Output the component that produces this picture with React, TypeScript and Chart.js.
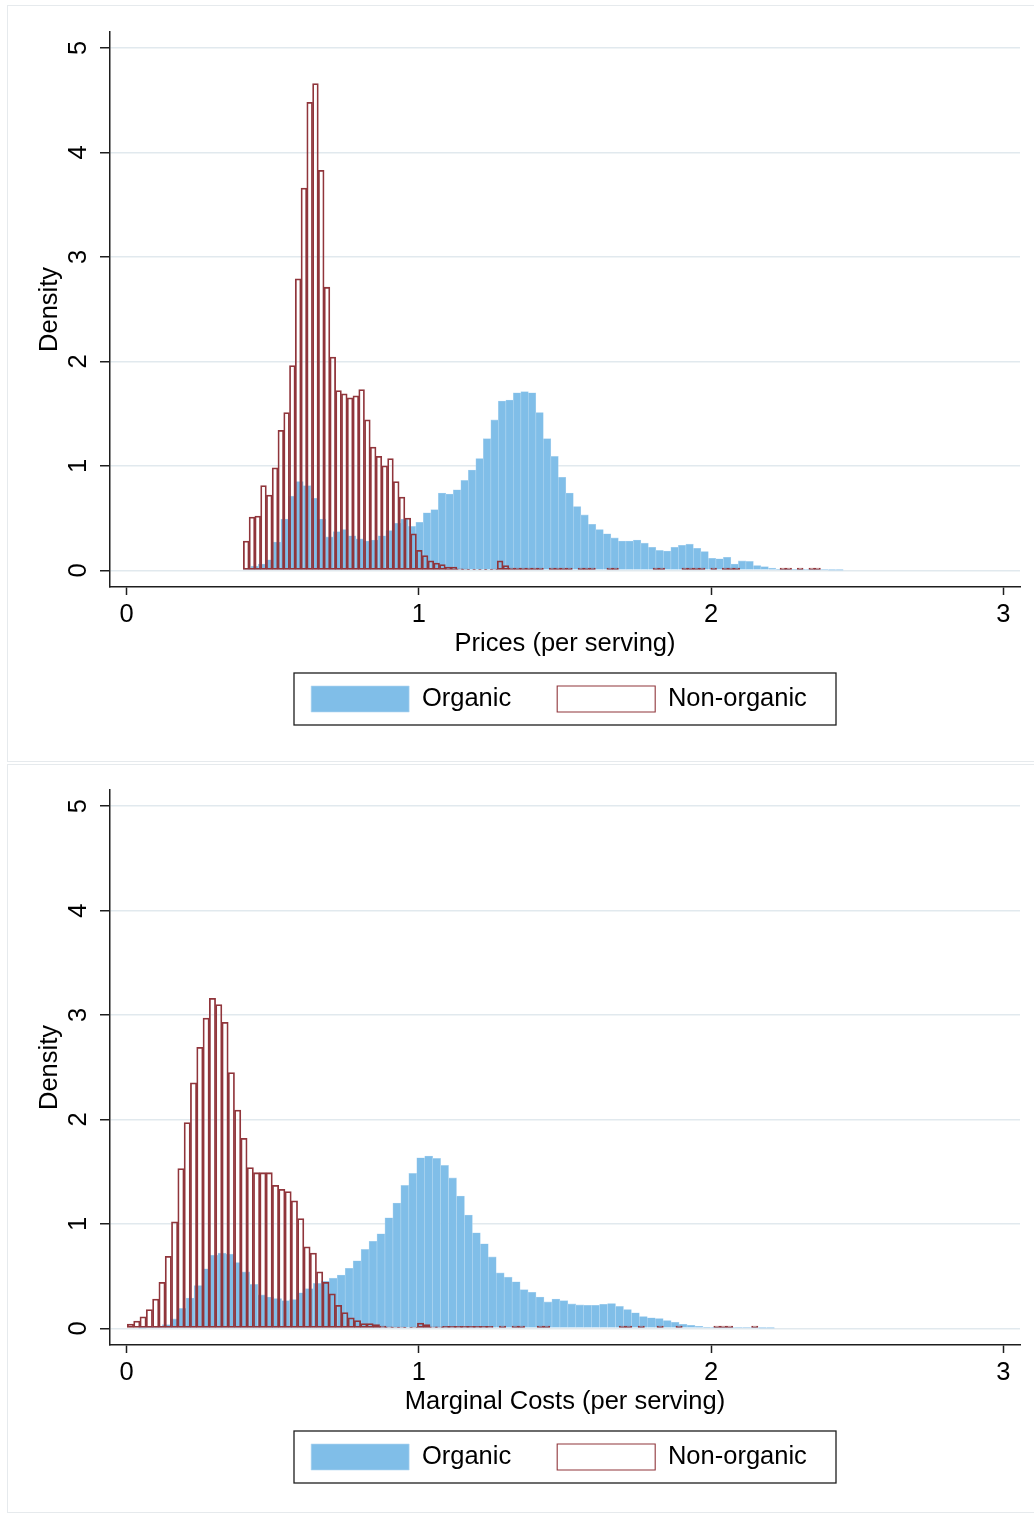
import React, { useEffect, useRef } from "react";
import { Chart, registerables } from "chart.js";

Chart.register(...registerables);

// ---------- data ----------
const xTicks = [0, 1, 2, 3];
const yTicks = [0, 1, 2, 3, 4, 5];
const seriesLabels = ["Organic", "Non-organic"];
const panelTitles = ["Prices (per serving)", "Marginal Costs (per serving)"];

// Prices panel: bin starts / widths and densities
const priceOrganicStart = 0.399;
const priceOrganicWidth = 0.02567;
const priceOrganic = [
  0.02, 0.04, 0.06, 0.1, 0.27, 0.49, 0.71, 0.85, 0.81, 0.69,
  0.49, 0.32, 0.37, 0.39, 0.33, 0.3, 0.28, 0.29, 0.33, 0.38,
  0.45, 0.49, 0.42, 0.46, 0.55, 0.58, 0.74, 0.73, 0.77, 0.86,
  0.96, 1.07, 1.26, 1.44, 1.62, 1.63, 1.7, 1.71, 1.7, 1.51,
  1.26, 1.09, 0.89, 0.74, 0.61, 0.53, 0.44, 0.39, 0.35, 0.31,
  0.28, 0.28, 0.29, 0.26, 0.22, 0.19, 0.185, 0.22, 0.24, 0.25,
  0.21, 0.18, 0.115, 0.11, 0.125, 0.06, 0.09, 0.085, 0.045, 0.035,
  0.02, 0.007, 0.005, 0.004, 0.004, 0.003, 0.003, 0.003, 0.002, 0.002,
];
const priceNonOrganicStart = 0.399;
const priceNonOrganicWidth = 0.01975;
const priceNonOrganic = [
  0.28, 0.51, 0.52, 0.81, 0.72, 0.98, 1.34, 1.51, 1.96, 2.79,
  3.66, 4.48, 4.66, 3.83, 2.71, 2.04, 1.72, 1.69, 1.65, 1.67,
  1.73, 1.44, 1.18, 1.09, 1.0, 1.07, 0.85, 0.7, 0.5, 0.35,
  0.19, 0.14, 0.09, 0.07, 0.055, 0.03, 0.03, 0.014, 0.012, 0.01,
  0.01, 0.01, 0.01, 0.012, 0.09, 0.045, 0.022, 0.022, 0.022, 0.022,
  0.022, 0.022, 0, 0.022, 0.022, 0.022, 0.022, 0, 0.022, 0.022,
  0.022, 0, 0, 0.022, 0.022, 0, 0, 0, 0, 0,
  0, 0.022, 0.022, 0, 0, 0, 0.022, 0.022, 0.022, 0.022,
  0, 0.022, 0, 0.022, 0.022, 0.022, 0, 0, 0, 0,
  0, 0, 0, 0.022, 0.022, 0, 0.022, 0, 0.022, 0.022,
];

// Marginal costs panel
const mcOrganicStart = 0.0402;
const mcOrganicWidth = 0.02721;
const mcOrganic = [
  0.002, 0.005, 0.015, 0.035, 0.09, 0.19, 0.29, 0.41, 0.57, 0.7,
  0.72, 0.71, 0.63, 0.54, 0.42, 0.32, 0.3, 0.285, 0.265, 0.275,
  0.34, 0.38, 0.43, 0.45, 0.48, 0.51, 0.575, 0.646, 0.755, 0.834,
  0.905, 1.058, 1.2, 1.368, 1.483, 1.633, 1.65, 1.627, 1.56, 1.44,
  1.266, 1.084, 0.914, 0.81, 0.684, 0.53, 0.49, 0.445, 0.37, 0.345,
  0.3, 0.253, 0.28, 0.265, 0.234, 0.224, 0.22, 0.22, 0.23, 0.237,
  0.21, 0.18, 0.148, 0.112, 0.1, 0.093, 0.074, 0.058, 0.038, 0.029,
  0.019, 0.01, 0.007, 0.004, 0.004, 0.004, 0.003, 0.003, 0.002, 0.002,
];
const mcNonOrganicStart = 0.0021;
const mcNonOrganicWidth = 0.02158;
const mcNonOrganic = [
  0.04, 0.07, 0.11, 0.18, 0.28, 0.44, 0.69, 1.02, 1.53, 1.97,
  2.35, 2.69, 2.97, 3.16, 3.1, 2.93, 2.45, 2.09, 1.82, 1.54,
  1.49, 1.49, 1.49, 1.37, 1.33, 1.31, 1.22, 1.05, 0.78, 0.72,
  0.54, 0.44, 0.33, 0.22, 0.15, 0.1, 0.074, 0.045, 0.045, 0.035,
  0.02, 0.015, 0.012, 0.012, 0.01, 0.012, 0.05, 0.035, 0.015, 0.014,
  0.018, 0.018, 0.018, 0.018, 0.018, 0.018, 0.018, 0.018, 0, 0.022,
  0, 0.022, 0.022, 0, 0, 0.022, 0.022, 0, 0, 0,
  0, 0, 0, 0, 0, 0, 0, 0, 0.022, 0.022,
  0, 0.022, 0, 0, 0.022, 0, 0, 0.022, 0, 0,
  0, 0, 0, 0.022, 0.022, 0.022, 0, 0, 0, 0.022,
];

// ---------- styles ----------
const FONT = "'Liberation Sans', Arial, Helvetica, sans-serif";
const FS = 25.5;
const BLUE = "rgb(128,190,232)";
const BLUE_EDGE = "rgb(178,215,241)";
const RED = "rgb(144,53,59)";
const GRID = "#e1e9ee";
const AXIS = "#1e1e1e";
const X_MIN = -0.0572;
const X_MAX = 3.057;
const Y_MIN = -0.16;
const Y_MAX = 5.155;

const toBins = (start: number, width: number, vals: number[]) =>
  vals.map((v, i) => ({ x: start + (i + 0.5) * width, y: v }));

// nudges the legend items slightly left and frames them with a box
const legendFrame = {
  id: "legendFrame",
  afterLayout(chart: any) {
    const lg = chart.legend;
    if (!lg) return;
    lg.left -= 6;
    lg.right -= 6;
  },
  afterDraw(chart: any) {
    const lg = chart.legend;
    if (!lg) return;
    const ctx = chart.ctx;
    const ca = chart.chartArea;
    const cx = (ca.left + ca.right) / 2;
    const pad = lg.options.labels.padding;
    const top = lg.top + pad - 13;
    ctx.save();
    ctx.strokeStyle = AXIS;
    ctx.lineWidth = 1.3;
    ctx.strokeRect(cx - 271, top, 542, 52);
    ctx.restore();
  },
};

type PanelProps = {
  top: number;
  height: number;
  padTop: number;
  padBottom: number;
  xTitle: string;
  org: number[];
  orgStart: number;
  orgWidth: number;
  non: number[];
  nonStart: number;
  nonWidth: number;
};

function Panel(p: PanelProps) {
  const ref = useRef<HTMLCanvasElement | null>(null);
  useEffect(() => {
    if (!ref.current) return;
    const font = { family: FONT, size: FS };
    const chart = new Chart(ref.current, {
      type: "bar",
      data: {
        datasets: [
          {
            label: seriesLabels[0],
            data: toBins(p.orgStart, p.orgWidth, p.org),
            xAxisID: "x",
            backgroundColor: BLUE,
            borderColor: BLUE_EDGE,
            borderWidth: 0.6,
            borderSkipped: "start",
            barPercentage: 1,
            categoryPercentage: 1,
            grouped: false,
            order: 2,
          },
          {
            label: seriesLabels[1],
            data: toBins(p.nonStart, p.nonWidth, p.non),
            xAxisID: "x2",
            backgroundColor: "rgba(255,255,255,0)",
            borderColor: RED,
            borderWidth: 1.1,
            borderSkipped: false,
            barPercentage: 1,
            categoryPercentage: 1,
            grouped: false,
            order: 1,
          },
        ] as any,
      },
      options: {
        animation: false,
        responsive: false,
        maintainAspectRatio: false,
        devicePixelRatio: 1,
        events: [],
        layout: { padding: { top: p.padTop, right: 14, bottom: p.padBottom, left: 0 } },
        scales: {
          x: {
            type: "linear",
            position: "bottom",
            min: X_MIN,
            max: X_MAX,
            offset: false,
            afterBuildTicks: (s: any) => {
              s.ticks = xTicks.map((v) => ({ value: v }));
            },
            afterFit: (s: any) => {
              s.height = 53;
              s.paddingLeft = 0;
              s.paddingRight = 0;
            },
            grid: {
              display: true,
              drawOnChartArea: false,
              offset: false,
              tickLength: 8,
              tickColor: AXIS,
              tickWidth: 1.5,
            },
            border: { color: AXIS, width: 1.5 },
            ticks: {
              padding: 5,
              color: "#000",
              font,
              maxRotation: 0,
              minRotation: 0,
              autoSkip: false,
            },
            title: {
              display: true,
              text: p.xTitle,
              color: "#000",
              font,
              padding: { top: 0, bottom: -19.3 },
            },
          },
          x2: {
            type: "linear",
            display: false,
            min: X_MIN,
            max: X_MAX,
            offset: false,
            grid: { offset: false },
          },
          y: {
            type: "linear",
            min: Y_MIN,
            max: Y_MAX,
            afterBuildTicks: (s: any) => {
              s.ticks = yTicks.map((v) => ({ value: v }));
            },
            afterFit: (s: any) => {
              s.width = 103;
              s.paddingTop = 0;
              s.paddingBottom = 0;
            },
            grid: {
              color: GRID,
              lineWidth: 1.5,
              tickColor: AXIS,
              tickLength: 10,
              tickWidth: 1.5,
            },
            border: { color: AXIS, width: 1.5 },
            ticks: {
              minRotation: 90,
              maxRotation: 90,
              crossAlign: "center",
              padding: 13.7,
              color: "#000",
              font,
              autoSkip: false,
            },
            title: {
              display: true,
              text: "Density",
              color: "#000",
              font,
              padding: { top: 27.7, bottom: 0 },
            },
          },
        } as any,
        plugins: {
          legend: {
            position: "bottom",
            fullSize: false,
            align: "center",
            labels: {
              boxWidth: 98,
              boxHeight: 26,
              padding: 46,
              color: "#000",
              font,
              sort: (a: any, b: any) => a.datasetIndex - b.datasetIndex,
            },
          },
          tooltip: { enabled: false },
        },
      } as any,
      plugins: [legendFrame],
    });
    return () => chart.destroy();
  }, []);

  return (
    <>
      <div
        style={{
          position: "absolute",
          left: 7,
          top: p.top,
          width: 1027,
          height: p.height + 1,
          borderTop: "1px solid #e6eaed",
          borderLeft: "1px solid #e6eaed",
          borderBottom: "1px solid #e6eaed",
          boxSizing: "border-box",
        }}
      />
      <canvas
        ref={ref}
        width={1027}
        height={p.height}
        style={{ position: "absolute", left: 7, top: p.top }}
      />
    </>
  );
}

export default function App() {
  return (
    <div style={{ background: "#fff" }}>
      <Panel
        top={5}
        height={756}
        padTop={26.8}
        padBottom={39}
        xTitle={panelTitles[0]}
        org={priceOrganic}
        orgStart={priceOrganicStart}
        orgWidth={priceOrganicWidth}
        non={priceNonOrganic}
        nonStart={priceNonOrganicStart}
        nonWidth={priceNonOrganicWidth}
      />
      <Panel
        top={764}
        height={748}
        padTop={26}
        padBottom={32}
        xTitle={panelTitles[1]}
        org={mcOrganic}
        orgStart={mcOrganicStart}
        orgWidth={mcOrganicWidth}
        non={mcNonOrganic}
        nonStart={mcNonOrganicStart}
        nonWidth={mcNonOrganicWidth}
      />
    </div>
  );
}
